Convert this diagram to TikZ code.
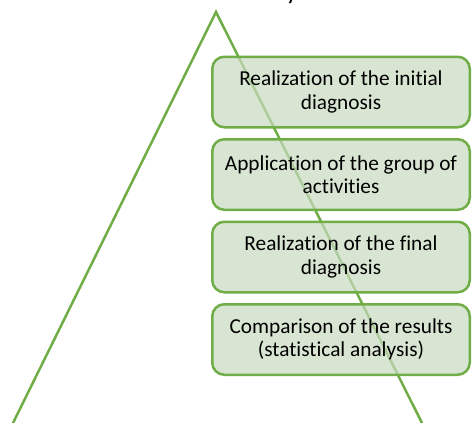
\documentclass[tikz,border=0pt]{standalone}
\usepackage{fontspec}
\setmainfont{Carlito}[Ligatures=NoCommon]
\usetikzlibrary{positioning}
\definecolor{leafgreen}{HTML}{70AD47}
\definecolor{boxfill}{RGB}{201,218,192}

\begin{document}
\begin{tikzpicture}[x=1pt,y=-1pt,
	stage/.style={shape=rectangle,rounded corners=12pt,draw=leafgreen,line width=2.5pt,
		fill=boxfill,fill opacity=0.7,text opacity=1,align=center,
		minimum width=257.5pt,minimum height=70.5pt,inner sep=0pt,
		font=\fontsize{21.3}{23.5}\selectfont},
	side/.style={draw=leafgreen,line width=2.5pt}]
					\useasboundingbox (0,0) rectangle (472,423);
					% triangle behind the boxes
					\coordinate (top) at (216,12);
					\coordinate (leftfoot) at (13,423);
					\coordinate (rightfoot) at (422,423);
					\draw[side] (leftfoot) -- (top) -- (rightfoot);
					% cut title
					\node (title) [anchor=base,inner sep=0pt] at (292,-1) {\fontsize{26}{30}\selectfont y};

					\node (initial) [stage] at (341,92) {Realization of the initial\\diagnosis};
					\node (activities) [stage] [below=9.5pt of initial] {Application of the group of\\activities};
					\node (final) [stage] [below=9.5pt of activities] {Realization of the final\\diagnosis};
					\node (comparison) [stage] [below=9.5pt of final] {Comparison of the results\\(statistical analysis)};
				\end{tikzpicture}
\end{document}
